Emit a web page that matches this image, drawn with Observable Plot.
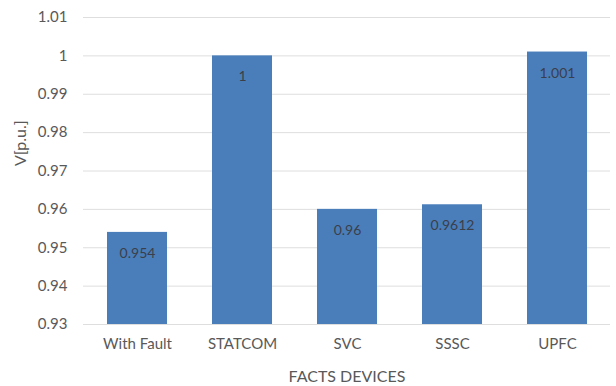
<!DOCTYPE html>
<html>
<head>
<meta charset="utf-8">
<script src="https://cdn.jsdelivr.net/npm/d3@7"></script>
<script src="https://cdn.jsdelivr.net/npm/@observablehq/plot@0.6"></script>
<style>
  html, body { margin: 0; padding: 0; background: #fff; }
  #chart svg { display: block; }
</style>
</head>
<body>
<div id="chart"></div>
<script>
// Bus voltage with each FACTS device (per unit)
const devices = ["With Fault", "STATCOM", "SVC", "SSSC", "UPFC"];
const voltages = [0.954, 1, 0.96, 0.9612, 1.001];
const yTicks = [0.93, 0.94, 0.95, 0.96, 0.97, 0.98, 0.99, 1, 1.01];

const rows = devices.map((d, i) => ({device: d, v: voltages[i]}));
const font = "Lato, 'Open Sans', sans-serif";
const fmt = d => String(+d.toFixed(2));

const chart = Plot.plot({
  width: 616,
  height: 386,
  marginTop: 17,
  marginLeft: 83,
  marginRight: 6,
  marginBottom: 62,
  style: {fontFamily: font, background: "#fff"},
  x: {domain: devices, padding: 0.43, paddingOuter: 0.215, axis: null},
  y: {domain: [0.93, 1.01], axis: null},
  marks: [
    Plot.gridY(yTicks, {stroke: "#dedede", strokeOpacity: 1, strokeWidth: 1}),
    Plot.barY(rows, {x: "device", y1: 0.93, y2: "v", fill: "#4a7ebb"}),
    Plot.text(rows, {x: "device", y: "v", text: d => String(d.v), dy: 21,
      fill: "#3b3f4a", fontSize: 14}),
    Plot.axisY(yTicks, {tickSize: 0, tickPadding: 16, tickFormat: fmt,
      fill: "#595959", fontSize: 15, label: null}),
    Plot.axisX({tickSize: 0, tickPadding: 14, fill: "#595959", fontSize: 15, label: null}),
    Plot.text(["FACTS DEVICES"], {frameAnchor: "bottom", dy: 52, lineAnchor: "middle",
      fill: "#595959", fontSize: 16}),
    Plot.text(["V[p.u.]"], {frameAnchor: "left", rotate: -90, dx: -63, dy: -5,
      fill: "#595959", fontSize: 16})
  ]
});
document.getElementById("chart").append(chart);
</script>
</body>
</html>
